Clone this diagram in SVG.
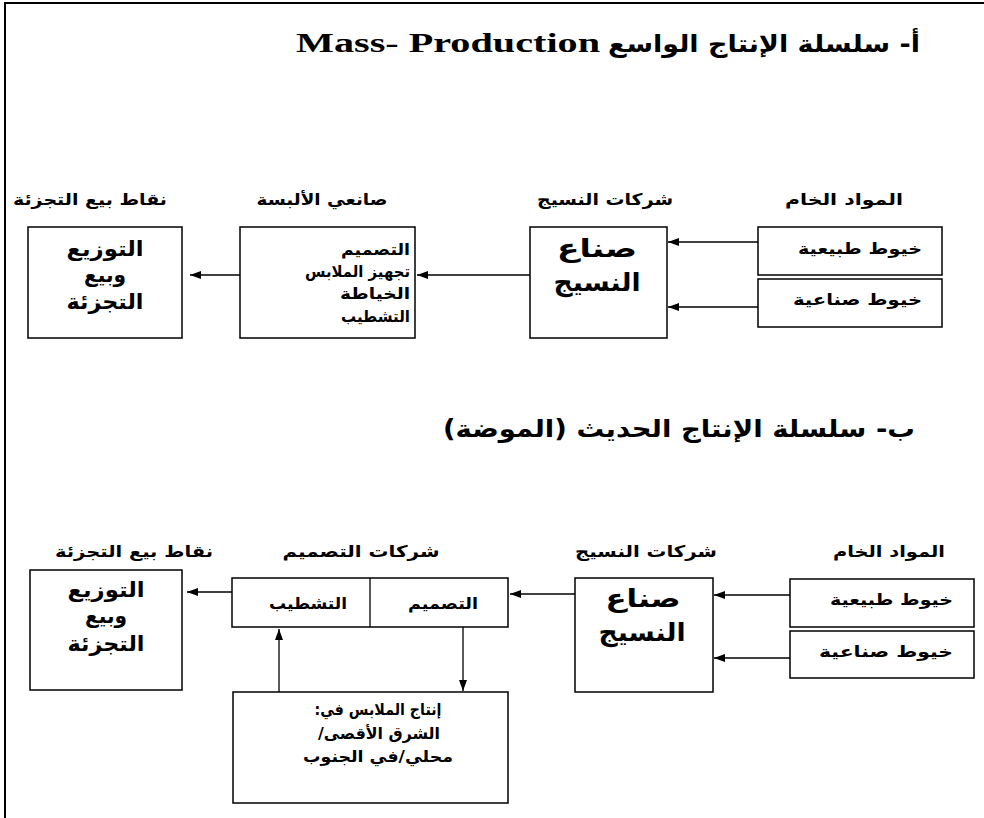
<svg xmlns="http://www.w3.org/2000/svg" width="984" height="818" viewBox="0 0 984 818">
<style>
.bd{fill:none;stroke:#000;stroke-width:2}
.box{fill:#fff;stroke:#000;stroke-width:1.5}
.ln{fill:none;stroke:#000;stroke-width:1.3}
text{font-family:"DejaVu Sans","Noto Sans",sans-serif;font-weight:bold;fill:#000}
.ttl{font-size:24px}
.lbl{font-size:16px}
.big{font-size:21px}
.mid{font-size:16px}
.huge{font-size:25px}
.en{font-family:"Liberation Serif","DejaVu Serif",serif;font-size:27px}
</style>
<defs>
<marker id="ah" markerUnits="userSpaceOnUse" markerWidth="12" markerHeight="10" refX="11" refY="5" orient="auto">
<path d="M0,1 L11,5 L0,9 Z" fill="#000"/>
</marker>
</defs>
<g id="frame">
<path class="bd" d="M5,818 V3 H984"/>
</g>
<g id="title-a">
<text class="ttl" x="920" y="52" text-anchor="start" direction="rtl" textLength="312" lengthAdjust="spacingAndGlyphs">أ- سلسلة الإنتاج الواسع</text>
<text class="en" x="296" y="52" textLength="304" lengthAdjust="spacingAndGlyphs">Mass- Production</text>
</g>
<g id="labels-a">
<text class="lbl" x="90" y="205" text-anchor="middle" direction="rtl" textLength="154" lengthAdjust="spacingAndGlyphs">نقاط بيع التجزئة</text>
<text class="lbl" x="322" y="205" text-anchor="middle" direction="rtl" textLength="131" lengthAdjust="spacingAndGlyphs">صانعي الألبسة</text>
<text class="lbl" x="605" y="205" text-anchor="middle" direction="rtl" textLength="136" lengthAdjust="spacingAndGlyphs">شركات النسيج</text>
<text class="lbl" x="844" y="205" text-anchor="middle" direction="rtl" textLength="118" lengthAdjust="spacingAndGlyphs">المواد الخام</text>
</g>
<g id="a-retail">
<rect class="box" x="28" y="227" width="154" height="111"/>
<text class="big" x="105" y="256" text-anchor="middle" direction="rtl" textLength="77" lengthAdjust="spacingAndGlyphs">التوزيع</text>
<text class="big" x="105" y="282" text-anchor="middle" direction="rtl" textLength="42" lengthAdjust="spacingAndGlyphs">وبيع</text>
<text class="big" x="105" y="309" text-anchor="middle" direction="rtl" textLength="77" lengthAdjust="spacingAndGlyphs">التجزئة</text>
</g>
<g id="a-clothing">
<rect class="box" x="240" y="227" width="175" height="111"/>
<text class="mid" x="410" y="255" text-anchor="start" direction="rtl" textLength="69" lengthAdjust="spacingAndGlyphs">التصميم</text>
<text class="mid" x="410" y="277" text-anchor="start" direction="rtl" textLength="105" lengthAdjust="spacingAndGlyphs">تجهيز الملابس</text>
<text class="mid" x="410" y="299" text-anchor="start" direction="rtl" textLength="70" lengthAdjust="spacingAndGlyphs">الخياطة</text>
<text class="mid" x="410" y="322" text-anchor="start" direction="rtl" textLength="69" lengthAdjust="spacingAndGlyphs">التشطيب</text>
</g>
<g id="a-textile">
<rect class="box" x="530" y="227" width="137" height="111"/>
<text class="huge" x="597" y="257" text-anchor="middle" direction="rtl" textLength="80" lengthAdjust="spacingAndGlyphs">صناع</text>
<text class="huge" x="597" y="291" text-anchor="middle" direction="rtl" textLength="87" lengthAdjust="spacingAndGlyphs">النسيج</text>
</g>
<g id="a-natural">
<rect class="box" x="758" y="227" width="184" height="48"/>
<text class="mid" x="922" y="254" text-anchor="start" direction="rtl" textLength="124" lengthAdjust="spacingAndGlyphs">خيوط طبيعية</text>
</g>
<g id="a-synthetic">
<rect class="box" x="758" y="279" width="184" height="48"/>
<text class="mid" x="922" y="305" text-anchor="start" direction="rtl" textLength="129" lengthAdjust="spacingAndGlyphs">خيوط صناعية</text>
</g>
<g id="title-b">
<text class="ttl" x="915" y="437" text-anchor="start" direction="rtl" textLength="472" lengthAdjust="spacingAndGlyphs">ب- سلسلة الإنتاج الحديث (الموضة)</text>
</g>
<g id="labels-b">
<text class="lbl" x="134" y="557" text-anchor="middle" direction="rtl" textLength="158" lengthAdjust="spacingAndGlyphs">نقاط بيع التجزئة</text>
<text class="lbl" x="361" y="557" text-anchor="middle" direction="rtl" textLength="157" lengthAdjust="spacingAndGlyphs">شركات التصميم</text>
<text class="lbl" x="646" y="557" text-anchor="middle" direction="rtl" textLength="142" lengthAdjust="spacingAndGlyphs">شركات النسيج</text>
<text class="lbl" x="889" y="557" text-anchor="middle" direction="rtl" textLength="112" lengthAdjust="spacingAndGlyphs">المواد الخام</text>
</g>
<g id="b-retail">
<rect class="box" x="30" y="570" width="152" height="120"/>
<text class="big" x="106" y="597" text-anchor="middle" direction="rtl" textLength="77" lengthAdjust="spacingAndGlyphs">التوزيع</text>
<text class="big" x="106" y="623" text-anchor="middle" direction="rtl" textLength="42" lengthAdjust="spacingAndGlyphs">وبيع</text>
<text class="big" x="106" y="651" text-anchor="middle" direction="rtl" textLength="77" lengthAdjust="spacingAndGlyphs">التجزئة</text>
</g>
<g id="b-design">
<rect class="box" x="232" y="578" width="276" height="49"/>
<line class="ln" x1="370" y1="578" x2="370" y2="627"/>
<text class="mid" x="308" y="609" text-anchor="middle" direction="rtl" textLength="78" lengthAdjust="spacingAndGlyphs">التشطيب</text>
<text class="mid" x="443" y="609" text-anchor="middle" direction="rtl" textLength="70" lengthAdjust="spacingAndGlyphs">التصميم</text>
</g>
<g id="b-production">
<rect class="box" x="233" y="692" width="275" height="111"/>
<text class="mid" x="378" y="715" text-anchor="middle" direction="rtl" textLength="127" lengthAdjust="spacingAndGlyphs">إنتاج الملابس في:</text>
<text class="mid" x="379" y="739" text-anchor="middle" direction="rtl" textLength="122" lengthAdjust="spacingAndGlyphs">الشرق الأقصى/</text>
<text class="mid" x="378" y="762" text-anchor="middle" direction="rtl" textLength="150" lengthAdjust="spacingAndGlyphs">محلي/في الجنوب</text>
</g>
<g id="b-textile">
<rect class="box" x="575" y="578" width="138" height="114"/>
<text class="huge" x="643" y="607" text-anchor="middle" direction="rtl" textLength="75" lengthAdjust="spacingAndGlyphs">صناع</text>
<text class="huge" x="642" y="641" text-anchor="middle" direction="rtl" textLength="87" lengthAdjust="spacingAndGlyphs">النسيج</text>
</g>
<g id="b-natural">
<rect class="box" x="790" y="579" width="184" height="48"/>
<text class="mid" x="953" y="605" text-anchor="start" direction="rtl" textLength="123" lengthAdjust="spacingAndGlyphs">خيوط طبيعية</text>
</g>
<g id="b-synthetic">
<rect class="box" x="790" y="631" width="184" height="47"/>
<text class="mid" x="953" y="657" text-anchor="start" direction="rtl" textLength="134" lengthAdjust="spacingAndGlyphs">خيوط صناعية</text>
</g>
<g id="connectors">
<line class="ln" x1="240" y1="275" x2="190" y2="275" marker-end="url(#ah)"/>
<line class="ln" x1="530" y1="275" x2="417" y2="275" marker-end="url(#ah)"/>
<line class="ln" x1="758" y1="242" x2="668" y2="242" marker-end="url(#ah)"/>
<line class="ln" x1="758" y1="307" x2="668" y2="307" marker-end="url(#ah)"/>
<line class="ln" x1="232" y1="592" x2="187" y2="592" marker-end="url(#ah)"/>
<line class="ln" x1="575" y1="594" x2="510" y2="594" marker-end="url(#ah)"/>
<line class="ln" x1="790" y1="595" x2="714" y2="595" marker-end="url(#ah)"/>
<line class="ln" x1="790" y1="658" x2="714" y2="658" marker-end="url(#ah)"/>
<line class="ln" x1="279" y1="692" x2="279" y2="629" marker-end="url(#ah)"/>
<line class="ln" x1="463" y1="627" x2="463" y2="691" marker-end="url(#ah)"/>
</g>
</svg>
